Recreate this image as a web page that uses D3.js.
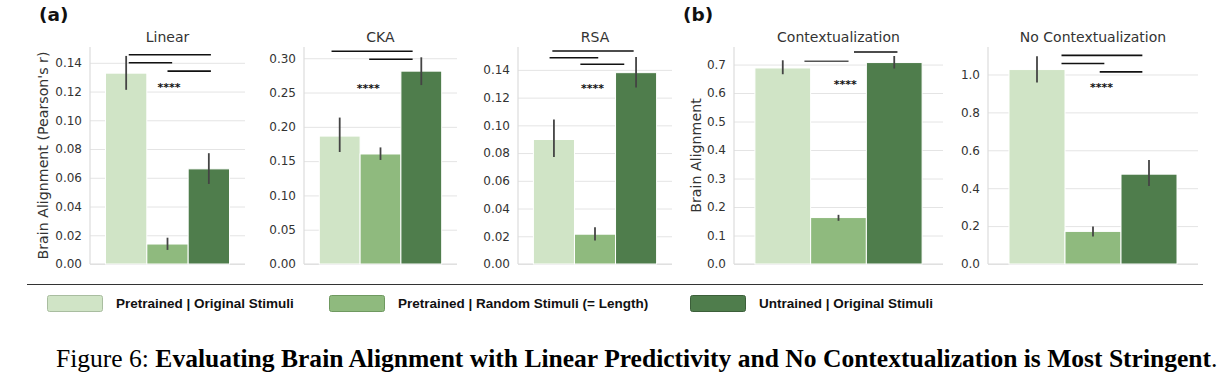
<!DOCTYPE html>
<html>
<head>
<meta charset="utf-8">
<script src="https://cdn.jsdelivr.net/npm/d3@7"></script>
<style>
  body { margin: 0; background: #fff; }
  svg { display: block; }
</style>
</head>
<body>
<svg id="fig" width="1226" height="381"></svg>
<script>
// ---- data ----
var seriesNames = ['Pretrained | Original Stimuli', 'Pretrained | Random Stimuli (= Length)', 'Untrained | Original Stimuli'];
var panelTitles = ['Linear', 'CKA', 'RSA', 'Contextualization', 'No Contextualization'];

// bar heights per panel (one value per series)
var linearValues = [0.1328, 0.0139, 0.0662];
var ckaValues = [0.1865, 0.1604, 0.2812];
var rsaValues = [0.0898, 0.0215, 0.1380];
var contextValues = [0.688, 0.163, 0.707];
var noContextValues = [1.026, 0.172, 0.474];

// error bar low / high per bar
var linearErr = [[0.1212, 0.1448], [0.0098, 0.0183], [0.0557, 0.0771]];
var ckaErr = [[0.1633, 0.2135], [0.1517, 0.1700], [0.2609, 0.3014]];
var rsaErr = [[0.0771, 0.1042], [0.0169, 0.0265], [0.1273, 0.1493]];
var contextErr = [[0.666, 0.715], [0.1516, 0.1726], [0.686, 0.730]];
var noContextErr = [[0.958, 1.096], [0.145, 0.198], [0.412, 0.549]];

// y ticks and upper axis limit
var linearTicks = [0, 0.02, 0.04, 0.06, 0.08, 0.10, 0.12, 0.14];
var ckaTicks = [0, 0.05, 0.10, 0.15, 0.20, 0.25, 0.30];
var rsaTicks = [0, 0.02, 0.04, 0.06, 0.08, 0.10, 0.12, 0.14];
var contextTicks = [0, 0.1, 0.2, 0.3, 0.4, 0.5, 0.6, 0.7];
var noContextTicks = [0, 0.2, 0.4, 0.6, 0.8, 1.0];
var yLimits = [0.151, 0.3164, 0.1565, 0.7616, 1.145];

// significance brackets: [x from, x to, y] with x on the -0.5..0.5 category axis
var linearSig = [[-0.25, 0.28, 0.1456], [-0.25, 0.03, 0.1400], [0.0, 0.28, 0.1342]];
var ckaSig = [[-0.32, 0.21, 0.3101], [-0.074, 0.21, 0.2986]];
var rsaSig = [[-0.277, 0.251, 0.1536], [-0.295, 0.021, 0.1488], [-0.095, 0.19, 0.1441]];
var contextSig = [[-0.163, 0.048, 0.7116], [0.074, 0.282, 0.744]];
var noContextSig = [[-0.15, 0.235, 1.101], [-0.15, 0.054, 1.058], [0.032, 0.235, 1.014]];

// "****" label position [x, y]
var starPos = [[0.01, 0.1247], [-0.08, 0.2594], [-0.016, 0.1285], [0.032, 0.639], [0.041, 0.943]];

// ---- style / layout ----
var palette = ['#d0e4c6', '#8fba7e', '#4f7d4c'];
var paletteEdge = ['#a9bda0', '#6f9960', '#3c5f3a'];
var panelLeft = [90, 304, 518, 734, 988];
var panelRight = [245, 457, 672, 943, 1198];
var plotTop = 47, plotBottom = 264;
var tickFmt = ['.2f', '.2f', '.2f', '.1f', '.1f'];

var values = [linearValues, ckaValues, rsaValues, contextValues, noContextValues];
var errs = [linearErr, ckaErr, rsaErr, contextErr, noContextErr];
var ticks = [linearTicks, ckaTicks, rsaTicks, contextTicks, noContextTicks];
var sigs = [linearSig, ckaSig, rsaSig, contextSig, noContextSig];

var svg = d3.select('#fig');
var font = '"DejaVu Sans", sans-serif';

function drawPanel(p){
    var g = svg.append('g');
    var x = d3.scaleLinear().domain([-0.5, 0.5]).range([panelLeft[p], panelRight[p]]);
    var band = d3.scaleBand().domain([0, 1, 2]).range([x(-0.4), x(0.4)]).padding(0);
    var y = d3.scaleLinear().domain([0, yLimits[p]]).range([plotBottom, plotTop]);
    var w = panelRight[p] - panelLeft[p];

    // grid
    var grid = g.append('g')
        .attr('transform', 'translate(' + panelLeft[p] + ',0)')
        .call(d3.axisLeft(y).tickValues(ticks[p]).tickSize(-w).tickFormat(''));
    grid.select('.domain').remove();
    grid.selectAll('line').attr('stroke', '#e4e4e4').attr('stroke-width', 1);

    // spines
    g.append('line')
        .attr('x1', panelLeft[p]).attr('x2', panelLeft[p])
        .attr('y1', plotTop).attr('y2', plotBottom)
        .attr('stroke', '#dcdcdc').attr('stroke-width', 1.2);
    g.append('line')
        .attr('x1', panelLeft[p]).attr('x2', panelRight[p])
        .attr('y1', plotBottom).attr('y2', plotBottom)
        .attr('stroke', '#dcdcdc').attr('stroke-width', 1.2);

    // tick labels
    var ax = g.append('g')
        .attr('transform', 'translate(' + panelLeft[p] + ',0)')
        .call(d3.axisLeft(y).tickValues(ticks[p]).tickSize(0).tickPadding(8).tickFormat(d3.format(tickFmt[p])));
    ax.select('.domain').remove();
    ax.selectAll('text')
        .attr('font-family', font)
        .attr('font-size', 12)
        .attr('fill', '#333');

    // bars
    g.selectAll('rect.bar')
        .data(values[p])
        .enter().append('rect')
        .attr('class', 'bar')
        .attr('x', (d, i) => band(i))
        .attr('width', band.bandwidth())
        .attr('y', d => y(d))
        .attr('height', d => plotBottom - y(d))
        .attr('fill', (d, i) => palette[i])
        .attr('stroke', '#fff')
        .attr('stroke-width', 1);

    // error bars
    g.selectAll('line.err')
        .data(errs[p])
        .enter().append('line')
        .attr('class', 'err')
        .attr('x1', (d, i) => band(i) + band.bandwidth() / 2)
        .attr('x2', (d, i) => band(i) + band.bandwidth() / 2)
        .attr('y1', d => y(d[0]))
        .attr('y2', d => y(d[1]))
        .attr('stroke', '#444')
        .attr('stroke-width', 1.8);

    // significance brackets
    g.selectAll('line.sig')
        .data(sigs[p])
        .enter().append('line')
        .attr('class', 'sig')
        .attr('x1', d => x(d[0]))
        .attr('x2', d => x(d[1]))
        .attr('y1', d => y(d[2]))
        .attr('y2', d => y(d[2]))
        .attr('stroke', (d, i) => (p == 3 && i == 0) ? '#555' : '#111')
        .attr('stroke-width', 1.6);

    g.append('text')
        .attr('x', x(starPos[p][0]))
        .attr('y', y(starPos[p][1]) + 6)
        .attr('text-anchor', 'middle')
        .attr('font-family', font)
        .attr('font-weight', 'bold')
        .attr('font-size', 11)
        .attr('fill', '#111')
        .text('****');

    // title
    g.append('text')
        .attr('x', (panelLeft[p] + panelRight[p]) / 2)
        .attr('y', 42)
        .attr('text-anchor', 'middle')
        .attr('font-family', font)
        .attr('font-size', 14)
        .attr('fill', '#333')
        .text(panelTitles[p]);
}

for (var p = 0; p < panelTitles.length; p++){
    drawPanel(p);
}

// y labels
function yLabel(cx, txt){
    svg.append('text')
        .attr('transform', 'translate(' + cx + ',' + (plotTop + plotBottom) / 2 + ') rotate(-90)')
        .attr('text-anchor', 'middle')
        .attr('font-family', font)
        .attr('font-size', 14.2)
        .attr('fill', '#333')
        .text(txt);
}
yLabel(48, "Brain Alignment (Pearson's r)");
yLabel(701, 'Brain Alignment');

// panel letters
svg.append('text').attr('x', 39).attr('y', 21)
    .attr('font-family', font).attr('font-weight', 'bold').attr('font-size', 18.5)
    .attr('fill', '#111').text('(a)');
svg.append('text').attr('x', 683).attr('y', 21)
    .attr('font-family', font).attr('font-weight', 'bold').attr('font-size', 18.5)
    .attr('fill', '#111').text('(b)');

// legend
svg.append('line')
    .attr('x1', 27).attr('x2', 1203)
    .attr('y1', 284.5).attr('y2', 284.5)
    .attr('stroke', '#333').attr('stroke-width', 1.2);

var legendX = [47, 329, 690];
var leg = svg.selectAll('g.leg')
    .data(seriesNames)
    .enter().append('g')
    .attr('class', 'leg')
    .attr('transform', (d, i) => 'translate(' + legendX[i] + ',295)');
leg.append('rect')
    .attr('x', 0.5).attr('y', 0.5)
    .attr('width', 55).attr('height', 16)
    .attr('rx', 2)
    .attr('fill', (d, i) => palette[i])
    .attr('stroke', (d, i) => paletteEdge[i])
    .attr('stroke-width', 1);
leg.append('text')
    .attr('x', 69).attr('y', 13)
    .attr('font-family', '"Liberation Sans", Arial, sans-serif')
    .attr('font-weight', 'bold')
    .attr('font-size', 13.5)
    .attr('fill', '#111')
    .text(d => d);

// caption
var cap = svg.append('text')
    .attr('x', 56).attr('y', 367)
    .attr('font-family', '"Liberation Serif", "Times New Roman", serif')
    .attr('font-size', 21)
    .attr('fill', '#000');
cap.append('tspan').text('Figure 6: ');
cap.append('tspan').attr('font-weight', 'bold')
    .text('Evaluating Brain Alignment with Linear Predictivity and No Contextualization is Most Stringent');
cap.append('tspan').text('.');

// fit caption to the width it has in the figure
var capLen = cap.node().getComputedTextLength();
cap.attr('font-size', 21 * 1162 / capLen);
</script>
</body>
</html>
